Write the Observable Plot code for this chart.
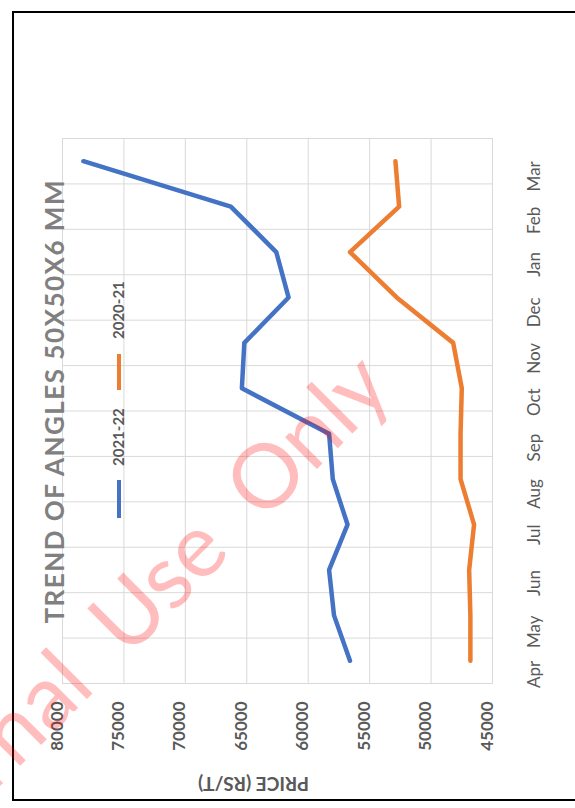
<!DOCTYPE html>
<html><head><meta charset="utf-8">
<script src="https://cdn.jsdelivr.net/npm/d3@7"></script>
<script src="https://cdn.jsdelivr.net/npm/@observablehq/plot@0.6"></script>
<style>html,body{margin:0;padding:0;background:#fff;} svg{display:block}</style>
</head><body><div id="chart"></div>
<script>
// ---- data ----
const months = ["Apr","May","Jun","Jul","Aug","Sep","Oct","Nov","Dec","Jan","Feb","Mar"];
const seriesNames = ["2021-22","2020-21"];
const price2021_22 = [56600,57900,58300,56800,58000,58300,65400,65200,61600,62600,66300,78300];
const price2020_21 = [46800,46800,46900,46500,47600,47600,47500,48200,52800,56600,52600,52900];
const priceTicks = [80000,75000,70000,65000,60000,55000,50000,45000];
const seriesColors = ["#4472C4","#ED7D31"];
const titleText = "TREND OF ANGLES 50X50X6 MM";
const axisTitle = "PRICE (RS/T)";
const watermarkText = "Internal Use Only";

const rows = [];
[price2021_22, price2020_21].forEach((vals, si) => {
  months.forEach((m, i) => rows.push({series: seriesNames[si], month: m, idx: i, price: vals[i]}));
});

const W = 575, H = 808, mL = 62, mR = 83, mT = 138, mB = 125;
const font = "Lato, 'Open Sans', sans-serif";
const grid = "#d9d9d9";

const chart = Plot.plot({
  width: W, height: H,
  marginLeft: mL, marginRight: mR, marginTop: mT, marginBottom: mB,
  style: {fontFamily: font, background: "#fff", overflow: "visible"},
  x: {domain: [80000, 45000], axis: null},
  y: {domain: [-0.5, months.length - 0.5], axis: null},
  color: {domain: seriesNames, range: seriesColors},
  marks: [
    Plot.ruleX(priceTicks, {stroke: grid, strokeWidth: 1}),
    Plot.ruleY(d3.range(1, months.length).map(i => i - 0.5), {stroke: grid, strokeWidth: 1}),
    Plot.frame({stroke: grid}),
    Plot.line(rows, {x: "price", y: "idx", z: "series", stroke: "series", strokeWidth: 4.5, strokeLinejoin: "round"}),
    Plot.text(priceTicks, {x: d => d, frameAnchor: "bottom", dy: 18, rotate: -90, textAnchor: "end",
      text: d => String(d), fontSize: 17, fontWeight: "bold", fill: "#595959"}),
    Plot.text(months, {y: (d, i) => i, frameAnchor: "right", dx: 42, rotate: -90,
      text: d => d, fontSize: 17, fill: "#595959"}),
    Plot.text([axisTitle], {frameAnchor: "bottom", dx: -24, dy: 93, rotate: 180,
      text: d => d, fontSize: 19, fontWeight: "bold", fill: "#595959"}),
    Plot.text([titleText], {frameAnchor: "left", dx: -7, dy: 212.5, rotate: -90, textAnchor: "start",
      text: d => d, fontSize: 26, fontWeight: "bold", fill: "#808080"})
  ]
});

document.getElementById("chart").appendChild(chart);
const svg = d3.select(chart);

// spread the title letters over the same length as in the reference
const titleNode = svg.selectAll("text").filter(function() { return this.textContent === titleText; }).node();
if (titleNode) {
  const natural = titleNode.getComputedTextLength();
  const spacing = Math.max(0, (443 - natural) / (titleText.length - 1));
  titleNode.style.letterSpacing = spacing + "px";
}

// legend
const legend = svg.append("g").attr("font-family", font).attr("font-size", 15).attr("font-weight", "bold").attr("fill", "#595959");
const legendItems = [
  {label: seriesNames[0], color: seriesColors[0], l0: 518, l1: 480, t: 466},
  {label: seriesNames[1], color: seriesColors[1], l0: 390, l1: 354, t: 339}
];
legendItems.forEach(it => {
  legend.append("line").attr("x1", 119).attr("x2", 119).attr("y1", it.l0).attr("y2", it.l1)
    .attr("stroke", it.color).attr("stroke-width", 4);
  legend.append("text").attr("transform", `translate(119,${it.t}) rotate(-90)`)
    .attr("dy", "0.35em").attr("text-anchor", "start").text(it.label);
});

// outer chart border
svg.append("rect").attr("x", 13).attr("y", 12).attr("width", 600).attr("height", 788)
  .attr("fill", "none").attr("stroke", "#000").attr("stroke-width", 2);

// watermark
svg.append("text").attr("transform", "translate(395,391) rotate(-45)")
  .attr("text-anchor", "end").attr("font-family", font).attr("font-size", 89)
  .style("word-spacing", "20px")
  .attr("fill", "rgba(255,0,0,0.26)").text(watermarkText);
</script>
</body></html>
